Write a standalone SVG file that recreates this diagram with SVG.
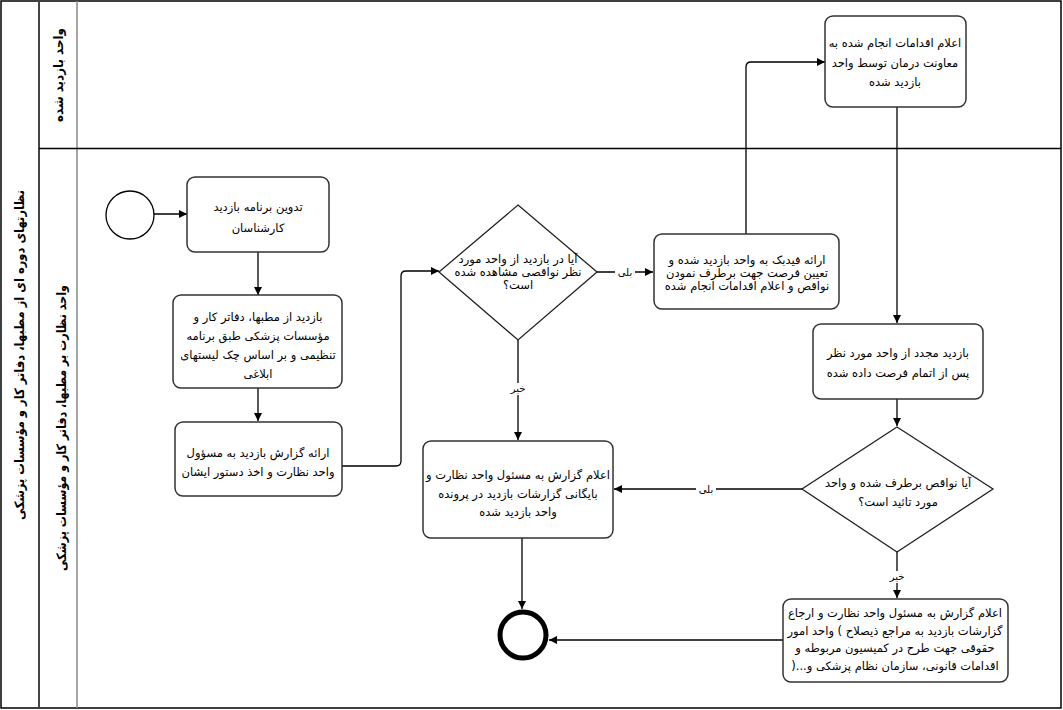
<svg xmlns="http://www.w3.org/2000/svg" width="1063" height="710" viewBox="0 0 1063 710">
<style>
text{font-family:"DejaVu Sans",sans-serif;fill:#000;}
.t{font-size:11.5px;text-anchor:middle;direction:rtl;}
.lbl{font-size:10px;text-anchor:middle;direction:rtl;}
.hdr{font-size:13px;font-weight:bold;text-anchor:middle;direction:rtl;}
.box{fill:#fff;stroke:#333;stroke-width:1.5;}
.dia{fill:#fff;stroke:#222;stroke-width:1.3;}
.c{fill:none;stroke:#000;stroke-width:1.3;}
</style>
<defs>
<marker id="ah" viewBox="0 0 10 10" refX="10" refY="5" markerWidth="8" markerHeight="8" markerUnits="userSpaceOnUse" orient="auto">
<path d="M0,0 L10,5 L0,10 z" fill="#000"/>
</marker>
</defs>
<rect width="1063" height="710" fill="#fff"/>
<g id="pool">
<rect x="1" y="1" width="1060" height="707" fill="none" stroke="#000" stroke-width="1.5"/>
<line x1="39" y1="1" x2="39" y2="708" stroke="#444" stroke-width="2"/>
<line x1="77" y1="1" x2="77" y2="708" stroke="#888" stroke-width="1.5"/>
<line x1="39" y1="148.5" x2="1061" y2="148.5" stroke="#000" stroke-width="1.3"/>
<text class="hdr" transform="translate(24 355) rotate(-90)" textLength="330" lengthAdjust="spacingAndGlyphs">نظارتهای دوره ای از مطبها، دفاتر کار و مؤسسات پزشکی</text>
<text class="hdr" transform="translate(63 75) rotate(-90)" textLength="94" lengthAdjust="spacingAndGlyphs">واحد بازدید شده</text>
<text class="hdr" transform="translate(66 428) rotate(-90)" textLength="286" lengthAdjust="spacingAndGlyphs">واحد نظارت بر مطبها، دفاتر کار و مؤسسات پزشکی</text>
</g>
<g id="connectors">
<line class="c" x1="154" y1="214" x2="187" y2="214" marker-end="url(#ah)"/>
<line class="c" x1="258" y1="252" x2="258" y2="295" marker-end="url(#ah)"/>
<line class="c" x1="258" y1="388" x2="258" y2="421" marker-end="url(#ah)"/>
<path class="c" d="M342,466 H396 Q401,466 401,461 V276 Q401,271 406,271 H439" marker-end="url(#ah)"/>
<line class="c" x1="597" y1="272" x2="653" y2="272" marker-end="url(#ah)"/>
<path class="c" d="M746,234 V67 Q746,62 751,62 H825" marker-end="url(#ah)"/>
<line class="c" x1="897" y1="107" x2="897" y2="323" marker-end="url(#ah)"/>
<line class="c" x1="897" y1="399" x2="897" y2="426" marker-end="url(#ah)"/>
<line class="c" x1="802" y1="489" x2="614" y2="489" marker-end="url(#ah)"/>
<line class="c" x1="518" y1="340" x2="518" y2="440" marker-end="url(#ah)"/>
<line class="c" x1="897" y1="552" x2="897" y2="598" marker-end="url(#ah)"/>
<line class="c" x1="522" y1="538" x2="522" y2="609" marker-end="url(#ah)"/>
<line class="c" x1="783" y1="640" x2="549" y2="640" marker-end="url(#ah)"/>
<rect x="615" y="266" width="20" height="12" fill="#fff"/>
<text class="lbl" x="625" y="276">بلی</text>
<rect x="696" y="483" width="20" height="12" fill="#fff"/>
<text class="lbl" x="706" y="493">بلی</text>
<rect x="508" y="383" width="20" height="12" fill="#fff"/>
<text class="lbl" x="518" y="392">خیر</text>
<rect x="887" y="571" width="20" height="12" fill="#fff"/>
<text class="lbl" x="897" y="580">خیر</text>
</g>
<g id="start"><circle cx="130" cy="215" r="24" fill="#fff" stroke="#000" stroke-width="1.3"/></g>
<g id="end"><circle cx="523" cy="635" r="23" fill="#fff" stroke="#000" stroke-width="5"/></g>
<g id="n1">
<rect class="box" x="187" y="177" width="142" height="75" rx="8"/>
<text class="t" x="258" y="211">تدوین برنامه بازدید</text>
<text class="t" x="258" y="232">کارشناسان</text>
</g>
<g id="n2">
<rect class="box" x="173" y="295" width="169" height="93" rx="8"/>
<text class="t" x="258" y="321">بازدید از مطبها، دفاتر کار و</text>
<text class="t" x="258" y="340">مؤسسات پزشکی طبق برنامه</text>
<text class="t" x="258" y="359">تنظیمی و بر اساس چک لیستهای</text>
<text class="t" x="258" y="378">ابلاغی</text>
</g>
<g id="n3">
<rect class="box" x="175" y="422" width="167" height="74" rx="8"/>
<text class="t" x="258" y="457">ارائه گزارش بازدید به مسؤول</text>
<text class="t" x="258" y="476">واحد نظارت و اخذ دستور ایشان</text>
</g>
<g id="d1">
<polygon class="dia" points="518,205 597,272 518,340 439,272"/>
<text class="t" x="518" y="263">آیا در بازدید از واحد مورد</text>
<text class="t" x="518" y="276">نظر نواقصی مشاهده شده</text>
<text class="t" x="518" y="289">است؟</text>
</g>
<g id="n4">
<rect class="box" x="654" y="234" width="185" height="75" rx="8"/>
<text class="t" x="747" y="264">ارائه فیدبک به واحد بازدید شده و</text>
<text class="t" x="747" y="277">تعیین فرصت جهت برطرف نمودن</text>
<text class="t" x="747" y="290">نواقص و اعلام اقدامات انجام شده</text>
</g>
<g id="n5">
<rect class="box" x="825" y="16" width="141" height="91" rx="8"/>
<text class="t" x="895" y="47">اعلام اقدامات انجام شده به</text>
<text class="t" x="895" y="67">معاونت درمان توسط  واحد</text>
<text class="t" x="895" y="86">بازدید شده</text>
</g>
<g id="n6">
<rect class="box" x="813" y="324" width="170" height="75" rx="8"/>
<text class="t" x="898" y="357">بازدید مجدد از واحد مورد نظر</text>
<text class="t" x="898" y="377">پس از اتمام فرصت داده شده</text>
</g>
<g id="d2">
<polygon class="dia" points="897,427 993,489 897,552 802,489"/>
<text class="t" x="898" y="487">آیا نواقص برطرف شده و واحد</text>
<text class="t" x="898" y="506">مورد تائید است؟</text>
</g>
<g id="n7">
<rect class="box" x="423" y="441" width="190" height="97" rx="8"/>
<text class="t" x="518" y="479">اعلام گزارش به مسئول واحد نظارت و</text>
<text class="t" x="518" y="498">بایگانی گزارشات بازدید در پرونده</text>
<text class="t" x="518" y="516">واحد بازدید شده</text>
</g>
<g id="n8">
<rect class="box" x="783" y="599" width="225" height="83" rx="8"/>
<text class="t" x="895" y="617">اعلام گزارش به مسئول واحد نظارت و ارجاع</text>
<text class="t" x="895" y="635">گزارشات بازدید به مراجع ذیصلاح ) واحد امور</text>
<text class="t" x="895" y="652">حقوقی جهت طرح در کمیسیون مربوطه و</text>
<text class="t" x="895" y="670">اقدامات قانونی، سازمان نظام پزشکی و...(</text>
</g>
</svg>
